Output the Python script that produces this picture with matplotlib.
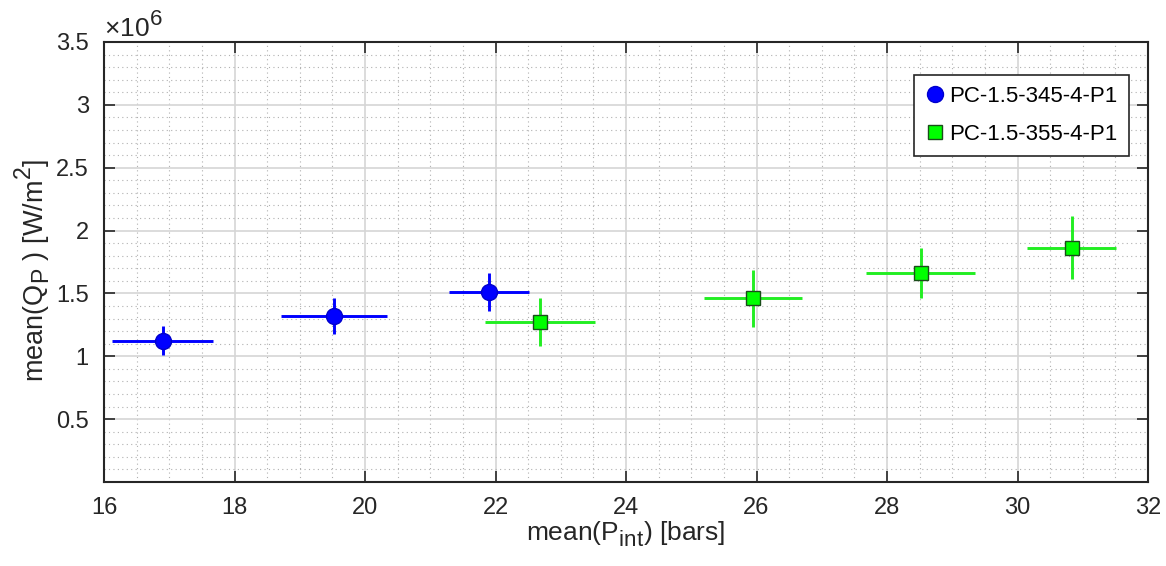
import matplotlib.pyplot as plt
import matplotlib._mathtext as mt
from matplotlib.ticker import MultipleLocator, FuncFormatter
from matplotlib.lines import Line2D

plt.rcParams['font.family'] = ['Liberation Sans', 'DejaVu Sans']
plt.rcParams['mathtext.fontset'] = 'custom'
plt.rcParams['mathtext.rm'] = 'Liberation Sans'
plt.rcParams['mathtext.it'] = 'Liberation Sans'
# MATLAB-style sub/superscripts: larger and further from the baseline
mt.SHRINK_FACTOR = 0.85
mt.FontConstantsBase.sub1 = 0.45
mt.FontConstantsBase.sup1 = 0.8

# series 1: PC-1.5-345-4-P1
p1_x = [16.90, 19.53, 21.90]
p1_y = [1.125e6, 1.32e6, 1.51e6]
p1_xerr = [0.77, 0.81, 0.62]
p1_yerr = [0.115e6, 0.14e6, 0.15e6]

# series 2: PC-1.5-355-4-P1
p2_x = [22.68, 25.94, 28.52, 30.83]
p2_y = [1.275e6, 1.46e6, 1.66e6, 1.865e6]
p2_xerr = [0.84, 0.75, 0.835, 0.68]
p2_yerr = [0.19e6, 0.23e6, 0.20e6, 0.25e6]

labels = ['PC-1.5-345-4-P1', 'PC-1.5-355-4-P1']

txt = '#262626'
fig = plt.figure(figsize=(11.66, 5.66), dpi=100)
ax = fig.add_axes([0.0892, 0.1484, 0.8954, 0.7774])

ax.errorbar(p1_x, p1_y, xerr=p1_xerr, yerr=p1_yerr, fmt='o', color='#0000ff',
            mfc='#0000ff', mec='#0000cc', ms=11.5, elinewidth=2.1, capsize=0, zorder=3)
ax.errorbar(p2_x, p2_y, xerr=p2_xerr, yerr=p2_yerr, fmt='s', color='#22ee22',
            mfc='#00ff00', mec='#1a4d1a', ms=9.5, elinewidth=2.1, capsize=0, zorder=3)

ax.set_xlim(16, 32)
ax.set_ylim(0, 3.5e6)
ax.xaxis.set_major_locator(MultipleLocator(2))
ax.xaxis.set_minor_locator(MultipleLocator(0.5))
ax.yaxis.set_major_locator(MultipleLocator(0.5e6))
ax.yaxis.set_minor_locator(MultipleLocator(0.1e6))
ax.yaxis.set_major_formatter(FuncFormatter(lambda v, p: '' if v == 0 else f'{v/1e6:g}'))

ax.grid(which='major', color='#d5d5d5', linewidth=1.2, linestyle='-')
ax.grid(which='minor', color='#b0b0b0', linewidth=0.8, linestyle=(0, (1, 3)))
ax.set_axisbelow(True)

ax.tick_params(which='major', direction='in', length=8, width=1.2,
               top=True, right=True, labelsize=17, colors=txt, pad=11)
ax.tick_params(which='minor', length=0)
for s in ax.spines.values():
    s.set_linewidth(1.5)
    s.set_color(txt)

ax.text(0.0, 1.0, r'$\times10^{6}$', transform=ax.transAxes, fontsize=19,
        color=txt, ha='left', va='bottom')

ax.set_xlabel(r'mean(P$_{\mathrm{int}}$) [bars]', fontsize=19, color=txt, labelpad=0)
ax.set_ylabel(r'mean(Q$_{\mathrm{P}}$ ) [W/m$^{2}$]', fontsize=19.5, color=txt)
ax.yaxis.set_label_coords(-0.049, 0.48)

handles = [Line2D([], [], ls='none', marker='o', ms=11.5, mfc='#0000ff', mec='#0000cc'),
           Line2D([], [], ls='none', marker='s', ms=9.5, mfc='#00ff00', mec='#1a4d1a')]
leg = ax.legend(handles, labels, loc='upper right', bbox_to_anchor=(0.988, 0.94), fontsize=16,
                frameon=True, fancybox=False, edgecolor=txt, framealpha=1,
                handlelength=0.9, handletextpad=0.2, borderpad=0.5, borderaxespad=0.3,
                labelspacing=0.75)
leg.get_frame().set_linewidth(1.2)

fig.savefig('out.png', dpi=100)
